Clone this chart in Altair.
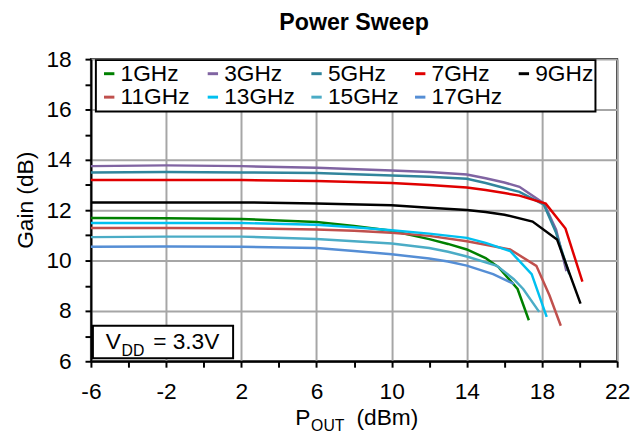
import altair as alt
import pandas as pd

series = ["1GHz", "3GHz", "5GHz", "7GHz", "9GHz", "11GHz", "13GHz", "15GHz", "17GHz"]
colors = ["#008000", "#8064A2", "#31859C", "#E00000", "#000000",
          "#C0504D", "#00C0F0", "#4BACC6", "#558ED5"]

f1_x = [-6, -2, 2, 6, 8, 10, 12, 13, 14, 15, 15.7, 16.7, 17.3]
f1_y = [11.69, 11.68, 11.65, 11.53, 11.37, 11.18, 10.85, 10.66, 10.44, 10.1, 9.73, 8.87, 7.63]
f3_x = [-6, -2, 2, 6, 10, 12, 14, 15, 16, 16.8, 18.1, 18.75, 19.3]
f3_y = [13.75, 13.78, 13.75, 13.69, 13.58, 13.52, 13.42, 13.27, 13.1, 12.93, 12.27, 11.23, 9.58]
f5_x = [-6, -2, 2, 6, 10, 12, 14, 15, 16, 16.8, 18.1, 18.75, 19.45]
f5_y = [13.5, 13.52, 13.5, 13.48, 13.38, 13.33, 13.25, 13.08, 12.88, 12.73, 12.22, 11.1, 9.46]
f7_x = [-6, -2, 2, 6, 10, 12, 14, 15, 16, 16.8, 18.2, 19.25, 20.15]
f7_y = [13.2, 13.2, 13.2, 13.16, 13.08, 13.0, 12.9, 12.8, 12.68, 12.58, 12.26, 11.27, 9.16]
f9_x = [-6, -2, 2, 6, 10, 12, 14, 15, 16, 17.5, 18.8, 20.05]
f9_y = [12.31, 12.31, 12.31, 12.27, 12.2, 12.1, 12.01, 11.93, 11.82, 11.55, 10.84, 8.29]
f11_x = [-6, -2, 2, 6, 8, 10, 12, 14, 15, 16.3, 17.7, 18.4, 19.0]
f11_y = [11.29, 11.29, 11.28, 11.23, 11.18, 11.1, 10.98, 10.77, 10.63, 10.44, 9.79, 8.61, 7.41]
f13_x = [-6, -2, 2, 6, 8, 10, 12, 14, 15, 16.3, 17.45, 18.25]
f13_y = [11.49, 11.49, 11.49, 11.42, 11.32, 11.2, 11.07, 10.9, 10.7, 10.38, 9.46, 7.76]
f15_x = [-6, -2, 2, 6, 8, 10, 12, 13, 14, 15.6, 16.5, 17.0, 17.85]
f15_y = [10.93, 10.95, 10.95, 10.86, 10.77, 10.68, 10.5, 10.35, 10.16, 9.79, 9.26, 8.87, 7.96]
f17_x = [-6, -2, 2, 6, 8, 10, 12, 13, 14, 15.4, 16.5]
f17_y = [10.55, 10.56, 10.55, 10.5, 10.38, 10.25, 10.08, 9.96, 9.8, 9.46, 9.07]

xs = [f1_x, f3_x, f5_x, f7_x, f9_x, f11_x, f13_x, f15_x, f17_x]
ys = [f1_y, f3_y, f5_y, f7_y, f9_y, f11_y, f13_y, f15_y, f17_y]

rows = []
for name, xx, yy in zip(series, xs, ys):
    for i, (a, b) in enumerate(zip(xx, yy)):
        rows.append({"freq": name, "pout": a, "gain": b, "idx": i})
df = pd.DataFrame(rows)

FONT = "Liberation Sans"
FS = 23

x_axis = alt.Axis(
    values=list(range(-6, 23, 2)),
    labelExpr="(datum.value + 6) % 4 == 0 ? toString(datum.value) : ''",
    gridOpacity={"condition": {"test": "(datum.value + 6) % 4 == 0", "value": 1}, "value": 0},
    title=None, labelFontSize=FS, labelPadding=14, labelFlush=False, labelOverlap=False,
)
y_axis = alt.Axis(
    values=list(range(6, 19, 1)),
    labelExpr="datum.value % 2 == 0 ? toString(datum.value) : ''",
    gridOpacity={"condition": {"test": "datum.value % 2 == 0", "value": 1}, "value": 0},
    title=None, labelFontSize=FS, labelPadding=14, labelFlush=False, labelOverlap=False,
)

lines = alt.Chart(df).mark_line(strokeWidth=2.5).encode(
    x=alt.X("pout:Q", scale=alt.Scale(domain=[-6, 22], nice=False, zero=False), axis=x_axis),
    y=alt.Y("gain:Q", scale=alt.Scale(domain=[6, 18], nice=False, zero=False), axis=y_axis),
    color=alt.Color(
        "freq:N",
        scale=alt.Scale(domain=series, range=colors),
        sort=series,
        legend=alt.Legend(
            orient="none", legendX=5, legendY=1, columns=5, direction="horizontal",
            title=None, symbolType="stroke", symbolStrokeWidth=3, symbolSize=110,
            labelFontSize=FS, labelFont=FONT, labelOffset=0, columnPadding=10,
            rowPadding=0, padding=2, strokeColor="black", fillColor="white",
            gridAlign="all", labelLimit=0, labelColor="black",
        ),
    ),
    detail="freq:N",
    order="idx:Q",
)

box = alt.Chart().mark_rect(fill="white", stroke="black", strokeWidth=2).encode(
    x=alt.value(2), x2=alt.value(144), y=alt.value(270), y2=alt.value(303)
)

def txt(s, x, y, size, weight="normal", align="left", angle=0):
    return alt.Chart().mark_text(
        text=s, fontSize=size, font=FONT, fontWeight=weight, align=align,
        baseline="alphabetic", angle=angle, color="black",
    ).encode(x=alt.value(x), y=alt.value(y))

texts = [
    txt("V", 15, 294, FS),
    txt("DD", 31, 301, 16),
    txt("= 3.3V", 63, 294, FS),
    txt("Power Sweep", 266.5, -30, 23.5, weight="bold", align="center"),
    txt("P", 207, 371, FS),
    txt("OUT", 223, 377, 16),
    txt("(dBm)", 269, 371, FS),
    alt.Chart().mark_text(
        text="Gain (dB)", fontSize=FS, font=FONT, align="center", baseline="middle",
        angle=270, color="black",
    ).encode(x=alt.value(-66), y=alt.value(143)),
]

chart = alt.layer(lines, box, *texts).properties(
    width=533, height=306,
    autosize=alt.AutoSizeParams(type="none"),
    padding={"left": 84, "top": 49, "right": 14, "bottom": 80},
).configure(font=FONT).configure_view(
    stroke="black", strokeWidth=2
).configure_axis(
    domainColor="black", domainWidth=2, tickColor="black", tickWidth=2, tickSize=6,
    gridColor="#A6A6A6", gridWidth=2, labelColor="black", labelFont=FONT,
).configure_legend(strokeWidth=2)

chart.save("out.html", embed_options={"renderer": "svg", "actions": False})
